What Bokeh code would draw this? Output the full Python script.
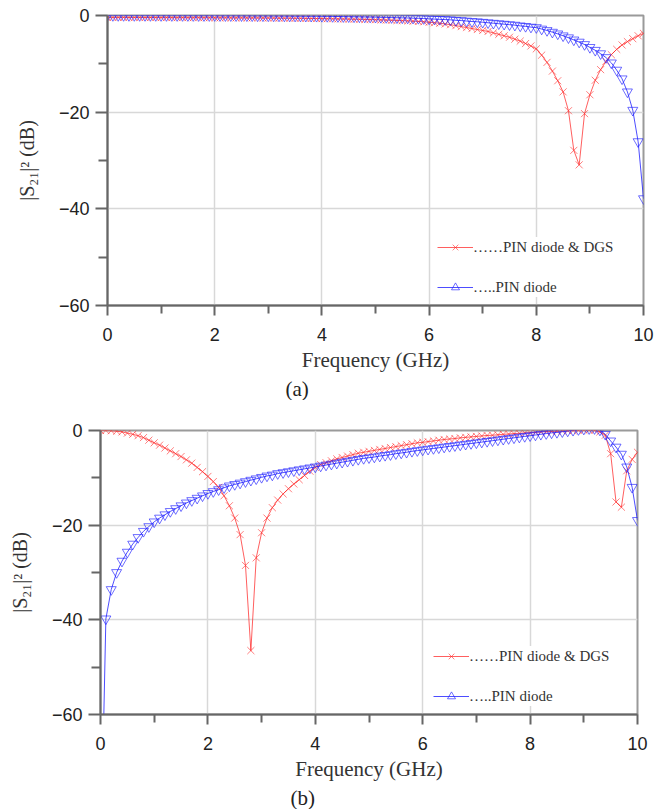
from bokeh.plotting import figure
from bokeh.models import (Range1d, FixedTicker, Legend, LegendItem, Title,
                          ColumnDataSource)
from bokeh.embed import file_html
from bokeh.resources import INLINE
import math

# ---------------- data ----------------
FREQ_GHZ = [round(0.1 * i, 1) for i in range(101)]

# panel (a)
A_PIN_DGS = [
    -0.40, -0.40, -0.40, -0.40, -0.41, -0.41, -0.41, -0.42, -0.42, -0.42, -0.43,
    -0.43, -0.43, -0.44, -0.44, -0.44, -0.45, -0.45, -0.45, -0.46, -0.46,
    -0.47, -0.47, -0.48, -0.48, -0.49, -0.49, -0.50, -0.50, -0.51, -0.52,
    -0.53, -0.54, -0.55, -0.56, -0.57, -0.58, -0.60, -0.61, -0.63, -0.64,
    -0.66, -0.68, -0.70, -0.72, -0.74, -0.76, -0.79, -0.81, -0.84, -0.87,
    -0.90, -0.94, -0.98, -1.02, -1.06, -1.11, -1.17, -1.23, -1.30, -1.40,
    -1.50, -1.60, -1.75, -1.90, -2.10, -2.30, -2.50, -2.70, -2.90, -3.10,
    -3.30, -3.60, -3.90, -4.20, -4.50, -4.90, -5.30, -5.80, -6.30, -6.90,
    -8.20, -9.70, -11.50, -13.50, -15.80, -19.70, -27.90, -30.90, -20.30, -16.40,
    -13.40, -11.20, -9.50, -8.10, -7.00, -6.10, -5.40, -4.80, -4.20, -3.70,
]
A_PIN = [
    0.00, 0.00, 0.00, 0.00, 0.00, 0.00, 0.00, 0.00, 0.00, 0.00, -0.01,
    -0.01, -0.01, -0.01, -0.01, -0.01, -0.02, -0.02, -0.02, -0.02, -0.02,
    -0.03, -0.03, -0.03, -0.04, -0.04, -0.05, -0.05, -0.06, -0.06, -0.07,
    -0.08, -0.09, -0.10, -0.11, -0.12, -0.13, -0.14, -0.15, -0.16, -0.17,
    -0.18, -0.20, -0.21, -0.23, -0.25, -0.27, -0.29, -0.31, -0.33, -0.35,
    -0.38, -0.40, -0.43, -0.46, -0.49, -0.52, -0.55, -0.59, -0.64, -0.70,
    -0.75, -0.80, -0.85, -0.90, -1.00, -1.05, -1.15, -1.25, -1.30, -1.40,
    -1.50, -1.60, -1.70, -1.80, -1.90, -2.00, -2.15, -2.25, -2.40, -2.50,
    -2.80, -3.10, -3.45, -3.80, -4.20, -4.60, -5.05, -5.50, -6.00, -6.60,
    -7.20, -7.90, -8.70, -9.80, -11.30, -13.10, -15.80, -19.60, -26.10, -37.90,
]

# panel (b)
B_PIN_DGS = [
    0.00, 0.00, -0.05, -0.15, -0.30, -0.55, -0.80, -1.10, -1.50, -2.05, -2.60,
    -3.10, -3.70, -4.30, -4.90, -5.50, -6.20, -6.90, -7.80, -8.70, -9.70,
    -10.80, -12.00, -13.80, -15.90, -18.50, -22.00, -28.50, -46.50, -26.90, -21.60,
    -18.50, -16.30, -14.70, -13.40, -12.30, -11.30, -10.40, -9.50, -8.60, -7.80,
    -7.20, -6.80, -6.40, -6.00, -5.70, -5.40, -5.10, -4.80, -4.60, -4.40,
    -4.20, -4.00, -3.80, -3.60, -3.40, -3.20, -3.00, -2.80, -2.60, -2.50,
    -2.35, -2.20, -2.05, -1.90, -1.80, -1.70, -1.55, -1.45, -1.35, -1.25,
    -1.15, -1.05, -1.00, -0.90, -0.80, -0.75, -0.65, -0.60, -0.50, -0.45,
    -0.40, -0.30, -0.25, -0.20, -0.15, -0.10, -0.05, 0.00, 0.05, 0.10,
    0.10, 0.05, -0.30, -1.00, -4.90, -15.10, -16.20, -8.50, -6.10, -4.60,
]
B_PIN = [
    -93.0, -39.8, -33.6, -30.0, -27.6, -25.7, -24.0, -22.6, -21.3, -20.3, -19.3,
    -18.5, -17.8, -17.1, -16.5, -15.9, -15.3, -14.8, -14.3, -13.8, -13.3,
    -12.9, -12.5, -12.1, -11.7, -11.4, -11.1, -10.8, -10.5, -10.2, -9.9,
    -9.6, -9.4, -9.1, -8.9, -8.7, -8.5, -8.3, -8.1, -7.9, -7.7,
    -7.5, -7.3, -7.1, -6.9, -6.7, -6.5, -6.3, -6.1, -5.9, -5.75,
    -5.6, -5.4, -5.25, -5.1, -4.9, -4.75, -4.6, -4.4, -4.25, -4.1,
    -3.95, -3.8, -3.65, -3.5, -3.35, -3.2, -3.05, -2.9, -2.75, -2.6,
    -2.45, -2.3, -2.15, -2.0, -1.85, -1.7, -1.55, -1.4, -1.25, -1.1,
    -0.95, -0.8, -0.65, -0.5, -0.4, -0.25, -0.1, 0.05, 0.2, 0.3,
    0.4, 0.4, 0.1, -0.8, -2.2, -3.5, -5.0, -7.7, -12.0, -19.0,
]

X_TICKS = [0, 2, 4, 6, 8, 10]
X_MINOR_TICKS = [1, 3, 5, 7, 9]
X_TICK_LABELS = ["0", "2", "4", "6", "8", "10"]
Y_TICKS = [-60, -40, -20, 0]
Y_MINOR_TICKS = [-50, -30, -10]
Y_TICK_LABELS = ["\u221260", "\u221240", "\u221220", "0"]
LEGEND_LABELS = ["\u2026\u2026PIN diode & DGS", "\u2026..PIN diode"]
X_LABEL = "Frequency (GHz)"
Y_LABEL = "|S\u2082\u2081|\u00b2 (dB)"
CAPTIONS = ["(a)", "(b)"]

RED = "#ff2a2a"
BLUE = "#2020ff"
AXIS_COLOR = "#666666"


def make_panel(dgs, pin, caption, height, borders, legend_loc, caption_offset):
    top, right, bottom, left = borders
    p = figure(width=660, height=height,
               x_range=Range1d(0, 10), y_range=Range1d(-60, 0),
               output_backend="svg", toolbar_location=None,
               min_border_top=top, min_border_right=right,
               min_border_bottom=bottom, min_border_left=left)
    p.background_fill_color = "white"
    p.border_fill_color = "white"
    p.outline_line_color = "#9a9a9a"
    p.outline_line_width = 2

    p.xaxis.ticker = FixedTicker(ticks=X_TICKS, minor_ticks=X_MINOR_TICKS)
    p.yaxis.ticker = FixedTicker(ticks=Y_TICKS, minor_ticks=Y_MINOR_TICKS)
    p.xaxis.major_label_overrides = dict(zip(X_TICKS, X_TICK_LABELS))
    p.yaxis.major_label_overrides = dict(zip(Y_TICKS, Y_TICK_LABELS))
    p.xgrid.ticker = FixedTicker(ticks=X_TICKS)
    p.ygrid.ticker = FixedTicker(ticks=Y_TICKS)
    for g in (p.xgrid[0], p.ygrid[0]):
        g.grid_line_color = "#d8d8d8"
        g.grid_line_width = 1.5

    for ax in (p.xaxis[0], p.yaxis[0]):
        ax.axis_line_color = AXIS_COLOR
        ax.axis_line_width = 2
        ax.major_tick_line_color = AXIS_COLOR
        ax.major_tick_line_width = 2
        ax.minor_tick_line_color = AXIS_COLOR
        ax.minor_tick_line_width = 2
        ax.major_tick_in = 0
        ax.minor_tick_in = 0
        ax.major_label_text_font = "Liberation Sans"
        ax.major_label_text_font_size = "18px"
        ax.major_label_text_color = "#222222"
        ax.axis_label_text_font = "Liberation Serif"
        ax.axis_label_text_font_style = "normal"
        ax.axis_label_text_color = "#333333"

    xa = p.xaxis[0]
    xa.major_tick_out = 10
    xa.minor_tick_out = 8
    xa.major_label_standoff = 12
    xa.axis_label = X_LABEL
    xa.axis_label_text_font_size = "21px"
    xa.axis_label_standoff = 4

    ya = p.yaxis[0]
    ya.major_tick_out = 12
    ya.minor_tick_out = 9
    ya.major_label_standoff = 6
    ya.axis_label = Y_LABEL
    ya.axis_label_text_font_size = "20px"
    ya.axis_label_standoff = 18

    src = ColumnDataSource(dict(f=FREQ_GHZ, dgs=dgs, pin=pin))
    r_line = p.line("f", "dgs", source=src, line_color=RED, line_width=1, line_alpha=0.75)
    r_mk = p.scatter("f", "dgs", source=src, marker="x", size=10,
                     line_color=RED, line_width=1, line_alpha=0.6)
    b_line = p.line("f", "pin", source=src, line_color=BLUE, line_width=1, line_alpha=0.8)
    # triangles turned upside down on the plot; the legend sample stays upright
    b_mk = p.scatter("f", "pin", source=src, marker="triangle", angle=math.pi, size=10,
                     line_color=BLUE, fill_color=None, line_width=1, line_alpha=0.65)

    legend = Legend(items=[LegendItem(label=LEGEND_LABELS[0], renderers=[r_line, r_mk]),
                           LegendItem(label=LEGEND_LABELS[1], renderers=[b_line, b_mk])],
                    location=legend_loc)
    legend.label_text_font = "Liberation Serif"
    legend.label_text_font_size = "15px"
    legend.label_text_color = "#333333"
    legend.glyph_width = 36
    legend.glyph_height = 20
    legend.label_height = 20
    legend.label_standoff = 0
    legend.spacing = 20
    legend.padding = 8
    legend.margin = 0
    legend.background_fill_color = "white"
    legend.background_fill_alpha = 1.0
    legend.border_line_color = None
    p.add_layout(legend)

    # sub-figure caption below the x-axis title
    cap = Title(text=caption, align="left", offset=caption_offset,
                text_font="Liberation Serif", text_font_size="21px",
                text_font_style="normal", text_color="#222222", standoff=0)
    p.add_layout(cap, "below")
    return p


pa = make_panel(A_PIN_DGS, A_PIN, CAPTIONS[0], 400, (15, 17, 95, 107), (330, 8), 178)
pb = make_panel(B_PIN_DGS, B_PIN, CAPTIONS[1], 409, (30, 23, 95, 100), (333, 8), 190)

open("out.html", "w").write(file_html([pa, pb], INLINE))
